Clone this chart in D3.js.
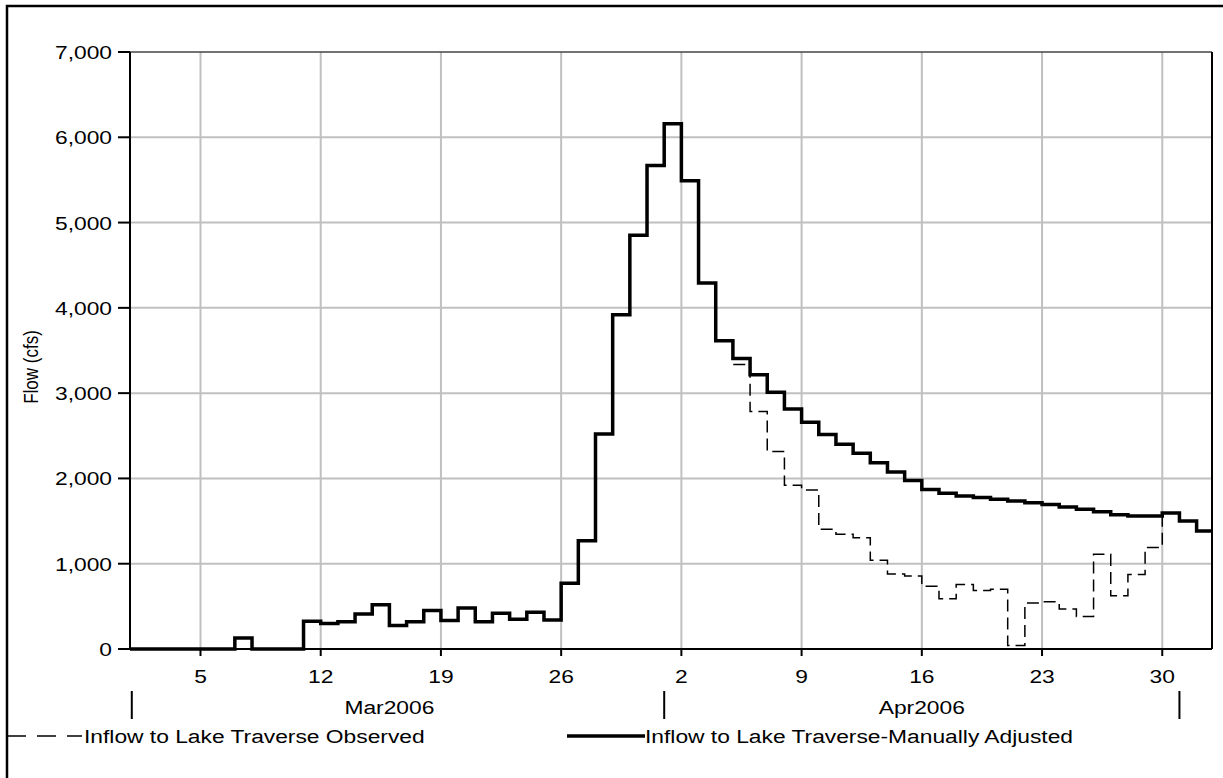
<!DOCTYPE html>
<html>
<head>
<meta charset="utf-8">
<script src="https://cdn.jsdelivr.net/npm/d3@7"></script>
<style>
  html, body { margin: 0; padding: 0; background: #fff; }
  svg { display: block; font-family: "Liberation Sans", Arial, sans-serif; }
</style>
</head>
<body>
<svg id="chart" width="1223" height="778"></svg>
<script>
// Daily values, Mar 1 2006 .. May 2 2006 (63 days)
const startDate = '2006-03-01';
const adjusted = [
  0, 0, 0, 0, 0, 0, 130, 0, 0, 0,
  325, 300, 320, 410, 520, 275, 320, 450, 335, 480,
  320, 420, 350, 430, 340, 770, 1270, 2520, 3920, 4850,
  5670,
  6160, 5490, 4290, 3615, 3405, 3215, 3010, 2815, 2660, 2515,
  2400, 2295, 2185, 2075, 1975, 1870, 1825, 1795, 1775, 1755,
  1735, 1715, 1695, 1665, 1640, 1610, 1575, 1560, 1560, 1595,
  1500, 1385
];
const observed = [
  0, 0, 0, 0, 0, 0, 130, 0, 0, 0,
  325, 300, 320, 410, 520, 275, 320, 450, 335, 480,
  320, 420, 350, 430, 340, 770, 1270, 2520, 3920, 4850,
  5670,
  6160, 5490, 4290, 3615, 3335, 2785, 2315, 1920, 1865, 1405,
  1345, 1305, 1040, 880, 855, 735, 590, 755, 685, 700,
  40, 540, 555, 470, 380, 1110, 625, 875, 1190, 1595,
  1500, 1385
];

const xDomain = ['2006-02-28T21:30', '2006-05-02T21:30'];
const yTicks = [0, 1000, 2000, 3000, 4000, 5000, 6000, 7000];
const weekTicks = ['2006-03-05', '2006-03-12', '2006-03-19', '2006-03-26',
  '2006-04-02', '2006-04-09', '2006-04-16', '2006-04-23', '2006-04-30'];
const months = [
  { label: 'Mar2006', start: '2006-03-01' },
  { label: 'Apr2006', start: '2006-04-01' }
];
const monthEdges = ['2006-03-01', '2006-04-01', '2006-05-01'];
const seriesNames = ['Inflow to Lake Traverse Observed', 'Inflow to Lake Traverse-Manually Adjusted'];

const parse = d3.timeParse('%Y-%m-%dT%H:%M');
const parseDay = d3.timeParse('%Y-%m-%d');

const margin = { left: 130, top: 52, right: 1212, bottom: 649 };
const TEXT_SX = 1.2;   // reference text is drawn slightly wide
const FONT = 19;

const svg = d3.select('#chart');

// outer frame (runs past the right and bottom edges of the picture)
svg.append('rect')
  .attr('x', 7).attr('y', 6)
  .attr('width', 1400).attr('height', 1000)
  .attr('fill', 'none')
  .attr('stroke', '#000')
  .attr('stroke-width', 2.5);

const x = d3.scaleTime()
  .domain(xDomain.map(parse))
  .range([margin.left, margin.right]);
const y = d3.scaleLinear()
  .domain([0, 7000])
  .range([margin.bottom, margin.top]);

function wideText(g, px, py, str, anchor) {
  return g.append('text')
    .attr('transform', `translate(${px},${py}) scale(${TEXT_SX},1)`)
    .attr('text-anchor', anchor || 'start')
    .attr('font-size', FONT)
    .attr('fill', '#000')
    .text(str);
}

// grid
const grid = svg.append('g').attr('class', 'grid');
grid.selectAll('line.h')
  .data(yTicks.slice(1, -1))
  .join('line')
  .attr('x1', margin.left).attr('x2', margin.right)
  .attr('y1', d => y(d)).attr('y2', d => y(d))
  .attr('stroke', '#c0c0c0').attr('stroke-width', 2);
grid.selectAll('line.v')
  .data(weekTicks.map(parseDay))
  .join('line')
  .attr('x1', d => x(d)).attr('x2', d => x(d))
  .attr('y1', margin.top).attr('y2', margin.bottom)
  .attr('stroke', '#c0c0c0').attr('stroke-width', 2);

// series as daily steps
function stepPoints(values) {
  const t0 = parseDay(startDate);
  const pts = values.map((v, i) => [d3.timeDay.offset(t0, i), v]);
  pts.unshift([x.domain()[0], values[0]]);
  pts.push([d3.timeDay.offset(t0, values.length), values[values.length - 1]]);
  return pts;
}

svg.append('clipPath').attr('id', 'plotClip')
  .append('rect')
  .attr('x', margin.left).attr('y', margin.top - 5)
  .attr('width', margin.right - margin.left)
  .attr('height', margin.bottom - margin.top + 10);

const line = d3.line()
  .x(d => x(d[0]))
  .y(d => y(d[1]))
  .curve(d3.curveStepAfter);

const plot = svg.append('g').attr('clip-path', 'url(#plotClip)');
plot.append('path')
  .attr('d', line(stepPoints(observed)))
  .attr('fill', 'none')
  .attr('stroke', '#000')
  .attr('stroke-width', 1.5)
  .attr('stroke-dasharray', '12,6');
plot.append('path')
  .attr('d', line(stepPoints(adjusted)))
  .attr('fill', 'none')
  .attr('stroke', '#000')
  .attr('stroke-width', 3.5)
  .attr('stroke-linejoin', 'miter');

// plot frame
svg.append('line')
  .attr('x1', margin.left).attr('x2', margin.right)
  .attr('y1', margin.top).attr('y2', margin.top)
  .attr('stroke', '#444').attr('stroke-width', 1.5);
svg.append('line')
  .attr('x1', margin.right).attr('x2', margin.right)
  .attr('y1', margin.top).attr('y2', margin.bottom)
  .attr('stroke', '#000').attr('stroke-width', 2);

// y axis
const yAxis = svg.append('g').attr('class', 'y-axis');
yAxis.append('line')
  .attr('x1', margin.left).attr('x2', margin.left)
  .attr('y1', margin.top).attr('y2', margin.bottom)
  .attr('stroke', '#000').attr('stroke-width', 2);
yAxis.selectAll('line.tick')
  .data(yTicks)
  .join('line')
  .attr('x1', margin.left - 12).attr('x2', margin.left)
  .attr('y1', d => y(d)).attr('y2', d => y(d))
  .attr('stroke', '#000').attr('stroke-width', 2);
yTicks.forEach(v => {
  wideText(yAxis, margin.left - 18, y(v) + 7, d3.format(',')(v), 'end');
});
yAxis.append('text')
  .attr('transform', `translate(${38},${367}) rotate(-90) scale(1,${TEXT_SX})`)
  .attr('text-anchor', 'middle')
  .attr('font-size', 17)
  .text('Flow (cfs)');

// x axis
const xAxis = svg.append('g').attr('class', 'x-axis');
xAxis.append('line')
  .attr('x1', margin.left).attr('x2', margin.right)
  .attr('y1', margin.bottom).attr('y2', margin.bottom)
  .attr('stroke', '#000').attr('stroke-width', 2);
xAxis.selectAll('line.tick')
  .data(weekTicks.map(parseDay))
  .join('line')
  .attr('x1', d => x(d)).attr('x2', d => x(d))
  .attr('y1', margin.bottom).attr('y2', margin.bottom + 7)
  .attr('stroke', '#000').attr('stroke-width', 2);
weekTicks.map(parseDay).forEach(d => {
  wideText(xAxis, x(d), 683, d3.timeFormat('%-d')(d), 'middle');
});
xAxis.selectAll('line.month')
  .data(monthEdges.map(parseDay))
  .join('line')
  .attr('x1', d => x(d)).attr('x2', d => x(d))
  .attr('y1', 691).attr('y2', 719)
  .attr('stroke', '#000').attr('stroke-width', 2);
months.forEach(m => {
  const mid = d3.timeDay.offset(parseDay(m.start), 15);
  wideText(xAxis, x(mid), 714, m.label, 'middle');
});

// legend
const legend = svg.append('g').attr('class', 'legend');
legend.append('line')
  .attr('x1', 7).attr('x2', 82)
  .attr('y1', 736).attr('y2', 736)
  .attr('stroke', '#000').attr('stroke-width', 1.5)
  .attr('stroke-dasharray', '19,11');
wideText(legend, 84, 743, seriesNames[0]);
legend.append('line')
  .attr('x1', 567).attr('x2', 645)
  .attr('y1', 736).attr('y2', 736)
  .attr('stroke', '#000').attr('stroke-width', 3.5);
wideText(legend, 645, 743, seriesNames[1]);
</script>
</body>
</html>
